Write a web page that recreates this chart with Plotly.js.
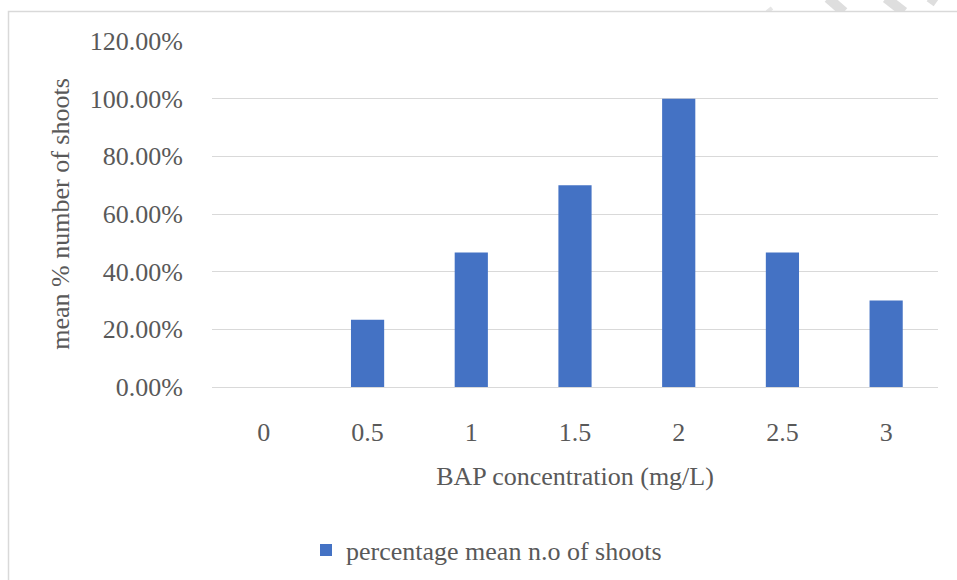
<!DOCTYPE html>
<html>
<head>
<meta charset="utf-8">
<script src="https://cdn.plot.ly/plotly-3.0.1.min.js"></script>
<style>
html,body{margin:0;padding:0;background:#fff;}
#chart{width:957px;height:580px;}
</style>
</head>
<body>
<div id="chart"></div>
<script>
var categories = ["0", "0.5", "1", "1.5", "2", "2.5", "3"];
var shootPercent = [0, 23.33, 46.67, 70, 100, 46.67, 30];
var seriesName = "percentage mean n.o of shoots";
var xTitle = "BAP concentration (mg/L)";
var yTitle = "mean % number of shoots";

var FONT = "Liberation Serif";
var GRAY = "#595959";

var trace = {
  type: "bar",
  x: categories,
  y: shootPercent,
  name: seriesName,
  marker: {color: "#4472C4"},
  showlegend: true
};

var L = 212, R = 938, T = 41, B = 387, W = 957, H = 580;
var pw = R - L, ph = B - T;
function px(x){ return (x - L) / pw; }
function py(y){ return (B - y) / ph; }

var layout = {
  width: W, height: H,
  margin: {l: L, r: W - R, t: T, b: H - B, pad: 0, autoexpand: false},
  paper_bgcolor: "#fff",
  plot_bgcolor: "#fff",
  font: {family: FONT, size: 26, color: GRAY},
  bargap: 0.68,
  xaxis: {
    type: "category",
    showgrid: false,
    showline: true,
    linecolor: "#d9d9d9",
    linewidth: 1,
    ticks: "",
    ticklabelstandoff: 22,
    tickfont: {family: FONT, size: 26, color: GRAY},
    title: {text: xTitle, font: {family: FONT, size: 26, color: GRAY}, standoff: 20},
    automargin: false,
    fixedrange: true
  },
  yaxis: {
    range: [0, 120],
    dtick: 20,
    tick0: 0,
    tickformat: ".2f",
    ticksuffix: "%",
    showgrid: true,
    gridcolor: "#d9d9d9",
    gridwidth: 1,
    zeroline: false,
    showline: false,
    ticks: "",
    ticklabelstandoff: 28,
    tickfont: {family: FONT, size: 26, color: GRAY},
    title: {text: yTitle, font: {family: FONT, size: 26, color: GRAY}, standoff: 12},
    automargin: false,
    fixedrange: true
  },
  legend: {
    orientation: "h",
    x: px(306), xanchor: "left",
    y: py(550), yanchor: "middle",
    font: {family: FONT, size: 26, color: GRAY},
    bgcolor: "rgba(0,0,0,0)"
  },
  shapes: [
    {type: "line", xref: "paper", yref: "paper",
     x0: px(828), y0: py(-2), x1: px(844), y1: py(12),
     line: {color: "#dedede", width: 10}, layer: "below"},
    {type: "line", xref: "paper", yref: "paper",
     x0: px(886), y0: py(-2), x1: px(904), y1: py(12),
     line: {color: "#dedede", width: 10}, layer: "below"},
    {type: "line", xref: "paper", yref: "paper",
     x0: px(929), y0: py(-2), x1: px(936), y1: py(3),
     line: {color: "#dedede", width: 8}, layer: "below"},
    {type: "line", xref: "paper", yref: "paper",
     x0: px(767), y0: py(12), x1: px(772), y1: py(8),
     line: {color: "#e6e6e6", width: 4}, layer: "below"},
    {type: "rect", xref: "paper", yref: "paper",
     x0: px(8.5), x1: px(990), y0: py(11.5), y1: py(620),
     line: {color: "#d9d9d9", width: 1.5}, fillcolor: "#ffffff", layer: "below"}
  ]
};

Plotly.newPlot("chart", [trace], layout, {displayModeBar: false, staticPlot: true});
</script>
</body>
</html>
